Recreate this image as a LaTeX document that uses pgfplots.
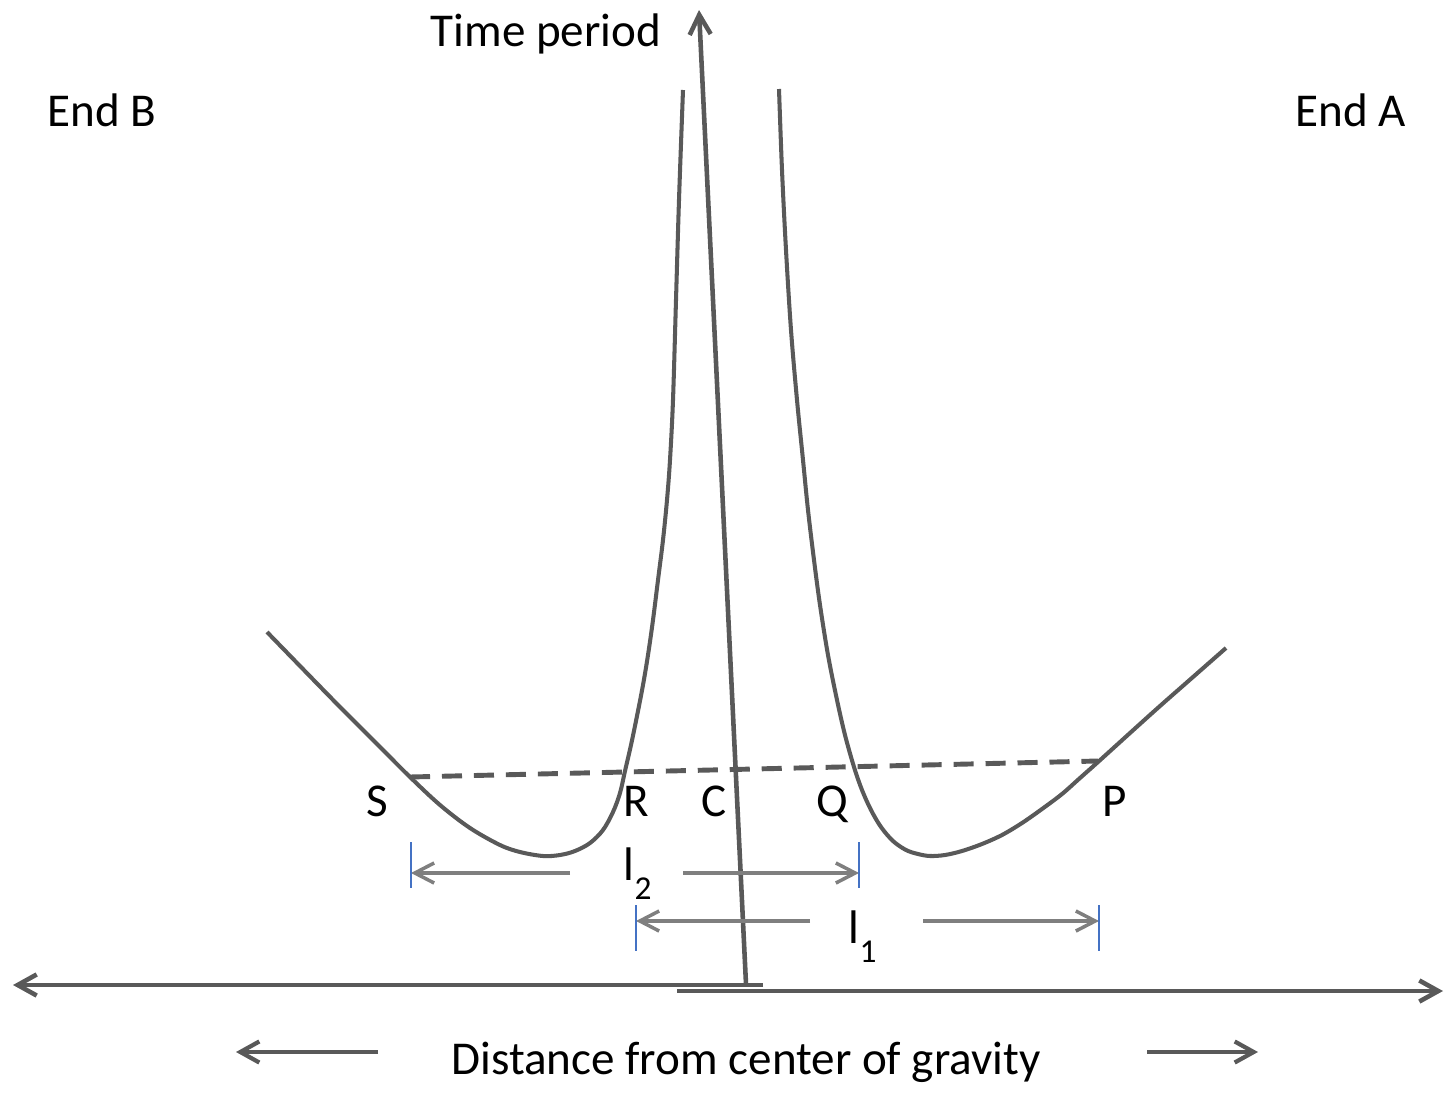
\documentclass[border=0pt]{standalone}
\usepackage{fontspec}
\setmainfont{Carlito}
\usepackage{pgfplots}
\pgfplotsset{compat=1.18}
\usetikzlibrary{arrows.meta}
\definecolor{cv}{HTML}{595959}
\definecolor{ar}{HTML}{7F7F7F}
\definecolor{bl}{HTML}{4472C4}
\newcommand{\lab}{\fontsize{13.4}{16}\selectfont}
\newcommand{\sub}{\fontsize{9.5}{10}\selectfont}
\begin{document}
\begin{tikzpicture}
\begin{axis}[
  width=14.46cm, height=11.14cm, scale only axis,
  xmin=0, xmax=1446, ymin=0, ymax=1114, y dir=reverse,
  hide axis, clip=false,
  every axis plot/.append style={no markers},
]
% left curve
\addplot[cv, line width=1.15pt, smooth, tension=0.55] coordinates {
(267,632) (300,666) (340,707) (380,747) (410,777) (440,805) (470,828) (500,845)
(520,852) (543,856) (560,855) (575,851) (590,843) (603,830) (613,812) (620,793)
(625,771) (631,745) (637,716) (643,685) (648,655) (653,620) (658,580) (663,540)
(667,500) (670,460) (673,400) (676,300) (679,200) (683,90)};
% right curve
\addplot[cv, line width=1.15pt, smooth, tension=0.55] coordinates {
(779,89) (782,170) (786,250) (791,330) (797,400) (803,460) (808,510) (814,560)
(820,605) (828,655) (837,700) (845,735) (854,767) (862,790) (871,810) (881,827)
(893,841) (906,850) (918,854) (930,856) (945,855) (962,851) (982,844) (1002,835)
(1022,823) (1042,809) (1062,794) (1080,778) (1098,762) (1130,733) (1160,706)
(1193,677) (1226,648)};
% dashed line
\addplot[cv, line width=1.4pt, dash pattern=on 5.7pt off 3.4pt] coordinates {(410,777) (1098,761)};
% vertical axis
\addplot[cv, line width=1.3pt, -{Straight Barb[length=5.6pt,width=6pt]}] coordinates {(746,984) (699,10)};
% horizontal axis
\addplot[cv, line width=1.3pt, -{Straight Barb[length=5.4pt,width=6pt]}] coordinates {(763,985) (13,985)};
\addplot[cv, line width=1.3pt, -{Straight Barb[length=5.4pt,width=6pt]}] coordinates {(677,991) (1443,991)};
% l2 arrows
\addplot[ar, line width=1.0pt, -{Straight Barb[length=5.5pt,width=5.7pt]}] coordinates {(570,873) (411,873)};
\addplot[ar, line width=1.0pt, -{Straight Barb[length=5.5pt,width=5.7pt]}] coordinates {(683,873) (859,873)};
% l1 arrows
\addplot[ar, line width=1.0pt, -{Straight Barb[length=5.5pt,width=5.7pt]}] coordinates {(810,921) (636,921)};
\addplot[ar, line width=1.0pt, -{Straight Barb[length=5.5pt,width=5.7pt]}] coordinates {(923,921) (1099,921)};
% blue ticks
\addplot[bl, line width=0.45pt] coordinates {(411,842) (411,888)};
\addplot[bl, line width=0.45pt] coordinates {(859,842) (859,888)};
\addplot[bl, line width=0.45pt] coordinates {(636,905) (636,951)};
\addplot[bl, line width=0.45pt] coordinates {(1099,905) (1099,951)};
% bottom arrows
\addplot[cv, line width=1.2pt, -{Straight Barb[length=5.4pt,width=6pt]}] coordinates {(378,1052) (236,1052)};
\addplot[cv, line width=1.2pt, -{Straight Barb[length=5.4pt,width=6pt]}] coordinates {(1147,1052) (1258,1052)};
% texts
\node[anchor=base, font=\lab] at (axis cs:546,46) {Time period};
\node[anchor=base, font=\lab] at (axis cs:102,127) {End B};
\node[anchor=base, font=\lab] at (axis cs:1351,127) {End A};
\node[anchor=base, font=\lab] at (axis cs:377,816) {S};
\node[anchor=base, font=\lab] at (axis cs:636,816) {R};
\node[anchor=base, font=\lab] at (axis cs:714,816) {C};
\node[anchor=base, font=\lab] at (axis cs:832,816) {Q};
\node[anchor=base, font=\lab] at (axis cs:1115,816) {P};
\node[anchor=base west, font=\lab, inner sep=0pt] at (axis cs:623,880) {l\raisebox{-5.5pt}{\sub 2}};
\node[anchor=base west, font=\lab, inner sep=0pt] at (axis cs:848,943) {l\raisebox{-5.5pt}{\sub 1}};
\node[anchor=base, font=\lab] at (axis cs:746,1074) {Distance from center of gravity};
\end{axis}
\pgfresetboundingbox
\path (current axis.south west) rectangle (current axis.north east);
\end{tikzpicture}
\end{document}
